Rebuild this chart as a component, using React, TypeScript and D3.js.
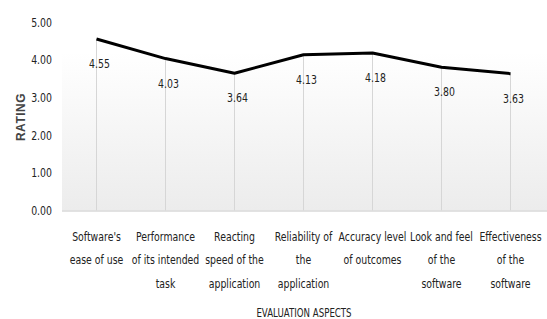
import { useEffect, useRef } from "react";
import * as d3 from "d3";

const CATEGORIES = [
	"Software's\nease of use",
	"Performance\nof its intended\ntask",
	"Reacting\nspeed of the\napplication",
	"Reliability of\nthe\napplication",
	"Accuracy level\nof outcomes",
	"Look and feel\nof the\nsoftware",
	"Effectiveness\nof the\nsoftware",
];
const RATINGS = [4.55, 4.03, 3.64, 4.13, 4.18, 3.8, 3.63];
const Y_TICKS = [0, 1, 2, 3, 4, 5];

const FONT = "'DejaVu Sans', sans-serif";
const SX = 0.72; // squeeze text horizontally, the source font is narrow

export default function App() {
	const ref = useRef<SVGSVGElement>(null);

	useEffect(() => {
		const svg = d3.select(ref.current);
		svg.selectAll("*").remove();

		const W = 547, H = 319;
		const left = 62, right = 545, top = 22, bottom = 210.5;

		const x = d3.scaleBand<number>()
			.domain(d3.range(CATEGORIES.length))
			.range([left, right]);
		const cx = (i: number) => x(i)! + x.bandwidth() / 2;

		const y = d3.scaleLinear().domain([0, 5]).range([bottom, top]);

		// narrow text helper
		const narrow = (g: any, tx: number, ty: number, size = 13) =>
			g.append("text")
				.attr("transform", `translate(${tx},${ty}) scale(${SX},1)`)
				.attr("font-family", FONT).attr("font-size", size)
				.attr("fill", "#222");

		svg.append("rect").attr("width", W).attr("height", H).attr("fill", "#fff");

		// plot area gradient
		const grad = svg.append("defs").append("linearGradient")
			.attr("id", "bg").attr("x1", 0).attr("y1", 0).attr("x2", 0).attr("y2", 1);
		grad.append("stop").attr("offset", "0%").attr("stop-color", "#ffffff");
		grad.append("stop").attr("offset", "100%").attr("stop-color", "#ececec");

		svg.append("rect")
			.attr("x", left).attr("y", y(4.2))
			.attr("width", W - left).attr("height", bottom - y(4.2))
			.attr("fill", "url(#bg)");

		// drop lines
		svg.append("g").selectAll("line")
			.data(RATINGS)
			.enter().append("line")
			.attr("x1", (_, i) => cx(i)).attr("x2", (_, i) => cx(i))
			.attr("y1", d => y(d)).attr("y2", bottom)
			.attr("stroke", "#d6d6d6").attr("stroke-width", 1);

		// axis line
		svg.append("line")
			.attr("x1", left).attr("x2", W)
			.attr("y1", bottom + 0.5).attr("y2", bottom + 0.5)
			.attr("stroke", "#d9d9d9").attr("stroke-width", 1.5);

		// y tick labels
		Y_TICKS.forEach(t => {
			narrow(svg, 52, y(t) + 4.5)
				.attr("text-anchor", "end")
				.text(d3.format(".2f")(t));
		});

		// line
		const line = d3.line<number>()
			.x((_, i) => cx(i))
			.y(d => y(d));

		svg.append("path")
			.datum(RATINGS)
			.attr("d", line)
			.attr("fill", "none")
			.attr("stroke", "#000")
			.attr("stroke-width", 3)
			.attr("stroke-linejoin", "round");

		// data labels
		RATINGS.forEach((v, i) => {
			narrow(svg, cx(i) + 3, y(v) + 29)
				.attr("text-anchor", "middle")
				.text(d3.format(".2f")(v));
		});

		// category labels
		CATEGORIES.forEach((c, i) => {
			const t = narrow(svg, cx(i), 241).attr("text-anchor", "middle");
			c.split("\n").forEach((s, j) => {
				t.append("tspan").attr("x", 0).attr("y", j * 23.5).text(s);
			});
		});

		// axis titles
		narrow(svg, 304, 317, 12)
			.attr("text-anchor", "middle")
			.text("EVALUATION ASPECTS");

		svg.append("text")
			.attr("transform", `translate(25,117) rotate(-90)`)
			.attr("text-anchor", "middle")
			.attr("font-family", "'Liberation Sans', Arial, sans-serif")
			.attr("font-size", 12)
			.attr("font-weight", "bold")
			.attr("fill", "#444")
			.attr("letter-spacing", 0.5)
			.text("RATING");
	}, []);

	return (
		<svg ref={ref} width={547} height={319}
			style={{ position: "absolute", left: 0, top: 0 }} />
	);
}
